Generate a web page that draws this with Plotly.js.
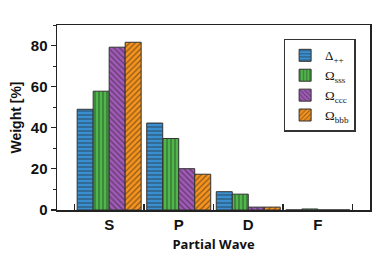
<!DOCTYPE html>
<html><head><meta charset="utf-8">
<script src="https://cdn.plot.ly/plotly-3.0.1.min.js"></script>
<style>html,body{margin:0;padding:0;background:#fff}#c{width:390px;height:260px}</style>
</head><body><div id="c"></div>
<script>
const categories = ["S", "P", "D", "F"];
const seriesNames = ["Δ<sub>++</sub>", "Ω<sub>sss</sub>", "Ω<sub>ccc</sub>", "Ω<sub>bbb</sub>"];
const deltaPP = [49, 42.3, 8.9, 0.05];
const omegaSSS = [57.8, 34.8, 7.7, 0.5];
const omegaCCC = [79.2, 20.1, 1.4, 0.05];
const omegaBBB = [81.6, 17.4, 1.4, 0.05];
const yTicks = [0, 20, 40, 60, 80];

const values = [deltaPP, omegaSSS, omegaCCC, omegaBBB];
const colors = ["#3b8fcf", "#4fb64a", "#a25ab8", "#f7941d"];
const shapes = ["-", "|", "\\", "/"];
const xs = categories.map((c, i) => i);

const traces = values.map((v, k) => ({
  type: "bar", x: xs, y: v, name: seriesNames[k],
  marker: {color: colors[k], line: {color: "#333", width: 1},
    pattern: {shape: shapes[k], fillmode: "overlay", fgcolor: "#1a1a1a", size: 4, solidity: 0.3}}
}));

const layout = {
  width: 390, height: 260,
  margin: {l: 57, r: 20, t: 25, b: 50},
  paper_bgcolor: "#fff", plot_bgcolor: "#fff",
  barmode: "group", bargap: 0.08, bargroupgap: 0,
  showlegend: true,
  legend: {x: 0.724, y: 0.925, xanchor: "left", yanchor: "top",
    bgcolor: "#fff", bordercolor: "#333", borderwidth: 1.5,
    font: {family: "Liberation Serif", size: 13, color: "#111"},
    tracegroupgap: 0, itemwidth: 30},
  xaxis: {range: [-0.75, 3.75], tickmode: "array", tickvals: xs, ticktext: categories,
    ticks: "", showgrid: false, zeroline: false, showline: true, linecolor: "#222", linewidth: 1.5, mirror: true,
    tickfont: {family: "Liberation Sans", size: 15, color: "#111", weight: "bold"},
    title: {text: "<b>Partial Wave</b>", font: {family: "Open Sans", size: 13, color: "#111"}, standoff: 8},
    minor: {tickmode: "array", tickvals: [-0.5, 0.5, 1.5, 2.5, 3.5], ticks: "inside", ticklen: 6, tickcolor: "#222", tickwidth: 1.2}},
  yaxis: {range: [0, 90], tickmode: "array", tickvals: yTicks, ticks: "outside", ticklen: 5, tickwidth: 1.2, tickcolor: "#222",
    showgrid: false, zeroline: false, showline: true, linecolor: "#222", linewidth: 1.5, mirror: true,
    tickfont: {family: "Liberation Sans", size: 15, color: "#111", weight: "bold"},
    title: {text: "<b>Weight [%]</b>", font: {family: "Liberation Sans", size: 14, color: "#111"}, standoff: 6},
    minor: {dtick: 10, ticks: "outside", ticklen: 3, tickcolor: "#222", tickwidth: 1}},
  yaxis2: {range: [0, 90], overlaying: "y", side: "right", tickmode: "array", tickvals: yTicks,
    ticks: "inside", ticklen: 5, tickwidth: 1.2, tickcolor: "#222", showticklabels: false,
    showgrid: false, zeroline: false, showline: false,
    minor: {dtick: 10, ticks: "inside", ticklen: 3, tickcolor: "#222", tickwidth: 1}}
};
Plotly.newPlot("c", traces, layout, {displayModeBar: false, staticPlot: true});
</script></body></html>
